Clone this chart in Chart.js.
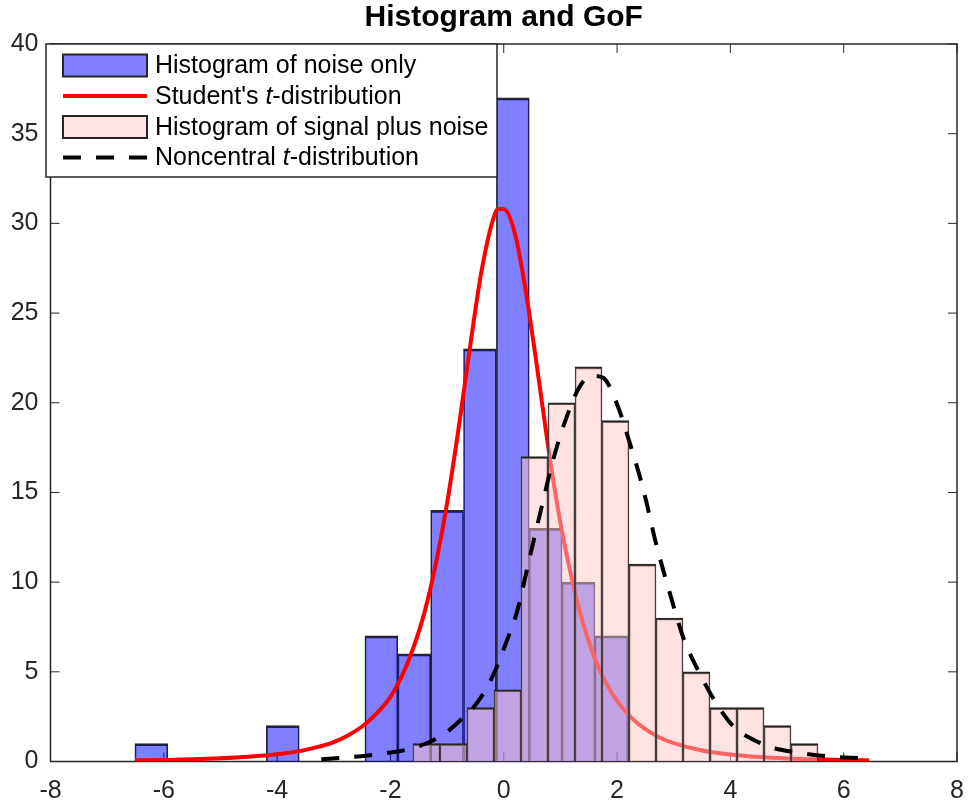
<!DOCTYPE html>
<html>
<head>
<meta charset="utf-8">
<script src="https://cdn.jsdelivr.net/npm/chart.js@4"></script>
<style>
  html, body { margin: 0; padding: 0; background: #fff; }
  #wrap { width: 968px; height: 809px; }
</style>
</head>
<body>
<div id="wrap"><canvas id="histChart"></canvas></div>
<script>
// histogram of noise only: bin centres and counts (bin width ~0.58)
var noiseCenters = [-6.22, -5.64, -5.06, -4.48, -3.90, -3.32, -2.74, -2.16, -1.58, -1.00, -0.42, 0.16, 0.74, 1.32, 1.90];
var noiseCounts  = [1, 0, 0, 0, 2, 0, 0, 7, 6, 14, 23, 37, 13, 10, 7];

// histogram of signal plus noise (bin width ~0.477)
var signalCenters = [-1.365, -0.888, -0.411, 0.066, 0.542, 1.019, 1.496, 1.972, 2.449, 2.926, 3.402, 3.879, 4.356, 4.832, 5.309];
var signalCounts  = [1, 1, 3, 4, 17, 20, 22, 19, 11, 8, 5, 3, 3, 2, 1];

// Student's t fit
var tX = [-6.51, -6.0, -5.5, -5.0, -4.5, -4.0, -3.5, -3.0, -2.75, -2.5, -2.25, -2.0, -1.8, -1.6, -1.4, -1.2, -1.0, -0.8, -0.6, -0.4, -0.2, -0.1, 0.0, 0.2, 0.4, 0.6, 0.8, 1.0, 1.2, 1.4, 1.6, 1.8, 2.0, 2.25, 2.5, 2.75, 3.0, 3.5, 4.0, 4.5, 5.0, 5.5, 6.0, 6.45];
var tY = [0.066, 0.088, 0.12, 0.175, 0.26, 0.40, 0.65, 1.08, 1.45, 1.95, 2.65, 3.6, 4.75, 6.3, 8.3, 11.0, 14.4, 18.5, 23.0, 27.2, 30.1, 30.8, 30.8, 29.4, 26.0, 21.7, 17.2, 13.3, 10.2, 7.7, 5.8, 4.4, 3.38, 2.45, 1.8, 1.34, 1.02, 0.61, 0.39, 0.25, 0.17, 0.12, 0.088, 0.066];

// noncentral t fit
var nctX = [-3.22, -2.8, -2.4, -2.0, -1.8, -1.5, -1.2, -0.95, -0.7, -0.54, -0.3, -0.12, 0.05, 0.23, 0.46, 0.67, 0.87, 1.11, 1.34, 1.55, 1.75, 1.99, 2.22, 2.46, 2.70, 2.93, 3.17, 3.46, 3.76, 4.05, 4.34, 4.76, 5.23, 5.82, 6.43];
var nctY = [0.13, 0.22, 0.34, 0.5, 0.6, 0.85, 1.25, 1.78, 2.5, 3.0, 4.1, 5.3, 6.7, 8.3, 11.4, 14.2, 16.8, 19.2, 20.9, 21.5, 21.4, 20.0, 17.8, 15.2, 12.0, 9.4, 6.9, 4.9, 3.2, 1.97, 1.32, 0.76, 0.48, 0.26, 0.17];

var xTicks = [-8, -6, -4, -2, 0, 2, 4, 6, 8];
var yTicks = [0, 5, 10, 15, 20, 25, 30, 35, 40];

var FONT = '"Liberation Sans", Arial, Helvetica, sans-serif';
var EDGE = '#262626';

function toPoints(xs, ys) {
    return xs.map(function (x, i) { return { x: x, y: ys[i] }; });
}

// MATLAB style box + inward ticks, drawn under the (transparent) bars
var frameAndTicks = {
    id: 'frameAndTicks',
    beforeDatasetsDraw: function (chart) {
        var a = chart.chartArea, c = chart.ctx;
        var xs = chart.scales.x, ys = chart.scales.y, len = 9;
        c.save();
        c.strokeStyle = EDGE;
        c.lineWidth = 1;
        c.beginPath();
        xs.ticks.forEach(function (t, i) {
            var px = xs.getPixelForTick(i);
            c.moveTo(px, a.bottom); c.lineTo(px, a.bottom - len);
            c.moveTo(px, a.top); c.lineTo(px, a.top + len);
        });
        ys.ticks.forEach(function (t, i) {
            var py = ys.getPixelForTick(i);
            c.moveTo(a.left, py); c.lineTo(a.left + len, py);
            c.moveTo(a.right, py); c.lineTo(a.right - len, py);
        });
        c.stroke();
        c.lineWidth = 1.5;
        c.strokeRect(a.left, a.top, a.right - a.left, a.bottom - a.top);
        c.restore();
    }
};

// legend box in the upper left corner, like the original
var boxLegend = {
    id: 'boxLegend',
    afterDatasetsDraw: function (chart) {
        var a = chart.chartArea, c = chart.ctx;
        var x0 = a.left - 4.5, y0 = a.top, w = 451, h = 133;
        var rows = [21.5, 52, 83, 113.5];
        var ds = chart.data.datasets;
        c.save();
        c.fillStyle = '#fff';
        c.fillRect(x0, y0, w, h);
        c.strokeStyle = EDGE;
        c.lineWidth = 1.5;
        c.strokeRect(x0, y0, w, h);
        c.textBaseline = 'middle';
        ds.forEach(function (d, i) {
            var cy = y0 + rows[i];
            var sx = x0 + 17, ex = x0 + 101;
            if (d.type === 'bar') {
                c.fillStyle = d.backgroundColor;
                c.fillRect(sx, cy - 11, ex - sx, 22);
                c.strokeStyle = EDGE;
                c.lineWidth = 2;
                c.strokeRect(sx, cy - 11, ex - sx, 22);
            } else {
                c.strokeStyle = d.borderColor;
                c.lineWidth = d.borderWidth;
                c.setLineDash(d.borderDash || []);
                c.beginPath();
                c.moveTo(sx, cy); c.lineTo(ex, cy);
                c.stroke();
                c.setLineDash([]);
            }
            // italic t in "t-distribution"
            var parts = d.label.split(/(\bt)(?=-)/);
            var tx = x0 + 109;
            c.fillStyle = '#000';
            parts.forEach(function (p, k) {
                c.font = (k % 2 === 1 ? 'italic ' : '') + '25px ' + FONT;
                c.fillText(p, tx, cy + 1);
                tx += c.measureText(p).width;
            });
        });
        c.restore();
    }
};

var ctx = document.getElementById('histChart').getContext('2d');
var histChart = new Chart(ctx, {
    type: 'bar',
    data: {
        datasets: [{
            type: 'bar',
            label: 'Histogram of noise only',
            data: toPoints(noiseCenters, noiseCounts),
            xAxisID: 'x',
            yAxisID: 'y',
            backgroundColor: 'rgba(0, 0, 255, 0.5)',
            borderColor: EDGE,
            borderWidth: { top: 2, left: 1, right: 1, bottom: 0 },
            borderSkipped: false,
            barPercentage: 1,
            categoryPercentage: 1,
            grouped: false,
            order: 4
        }, {
            type: 'line',
            label: "Student's t-distribution",
            data: toPoints(tX, tY),
            xAxisID: 'x',
            yAxisID: 'y',
            borderColor: '#ff0000',
            borderWidth: 4,
            pointRadius: 0,
            fill: false,
            cubicInterpolationMode: 'monotone',
            order: 3
        }, {
            type: 'bar',
            label: 'Histogram of signal plus noise',
            data: toPoints(signalCenters, signalCounts),
            xAxisID: 'x2',
            yAxisID: 'y',
            backgroundColor: 'rgba(255, 200, 200, 0.5)',
            borderColor: EDGE,
            borderWidth: { top: 2, left: 1, right: 1, bottom: 0 },
            borderSkipped: false,
            barPercentage: 1,
            categoryPercentage: 1,
            grouped: false,
            order: 2
        }, {
            type: 'line',
            label: 'Noncentral t-distribution',
            data: toPoints(nctX, nctY),
            xAxisID: 'x',
            yAxisID: 'y',
            borderColor: '#000000',
            borderWidth: 4,
            borderDash: [18, 15],
            borderCapStyle: 'butt',
            pointRadius: 0,
            fill: false,
            cubicInterpolationMode: 'monotone',
            order: 1
        }]
    },
    options: {
        responsive: true,
        maintainAspectRatio: false,
        animation: false,
        layout: { padding: { left: 0, right: 11, top: 0, bottom: 0 } },
        scales: {
            x: {
                type: 'linear',
                position: 'bottom',
                offset: false,
                min: -8,
                max: 8,
                grid: { display: false, drawTicks: false, offset: false },
                border: { display: false },
                ticks: { font: { size: 25, family: FONT }, color: EDGE, padding: 15, maxRotation: 0, autoSkip: false },
                afterBuildTicks: function (s) { s.ticks = xTicks.map(function (v) { return { value: v }; }); },
                afterFit: function (s) { s.height = 47.5; s.paddingLeft = 0; s.paddingRight = 0; }
            },
            x2: {
                type: 'linear',
                position: 'bottom',
                offset: false,
                min: -8,
                max: 8,
                display: false
            },
            y: {
                type: 'linear',
                min: 0,
                max: 40,
                grid: { display: false, drawTicks: false },
                border: { display: false },
                ticks: { font: { size: 25, family: FONT }, color: EDGE, padding: 12 },
                afterBuildTicks: function (s) { s.ticks = yTicks.map(function (v) { return { value: v }; }); },
                afterFit: function (s) { s.width = 50.5; s.paddingTop = 0; s.paddingBottom = 0; }
            }
        },
        plugins: {
            legend: { display: false },
            tooltip: { enabled: false },
            title: {
                display: true,
                fullSize: false,
                text: 'Histogram and GoF',
                color: '#000',
                font: { size: 30, weight: 'bold', family: FONT },
                padding: { top: 0, bottom: 8 }
            }
        }
    },
    plugins: [frameAndTicks, boxLegend]
});
</script>
</body>
</html>
